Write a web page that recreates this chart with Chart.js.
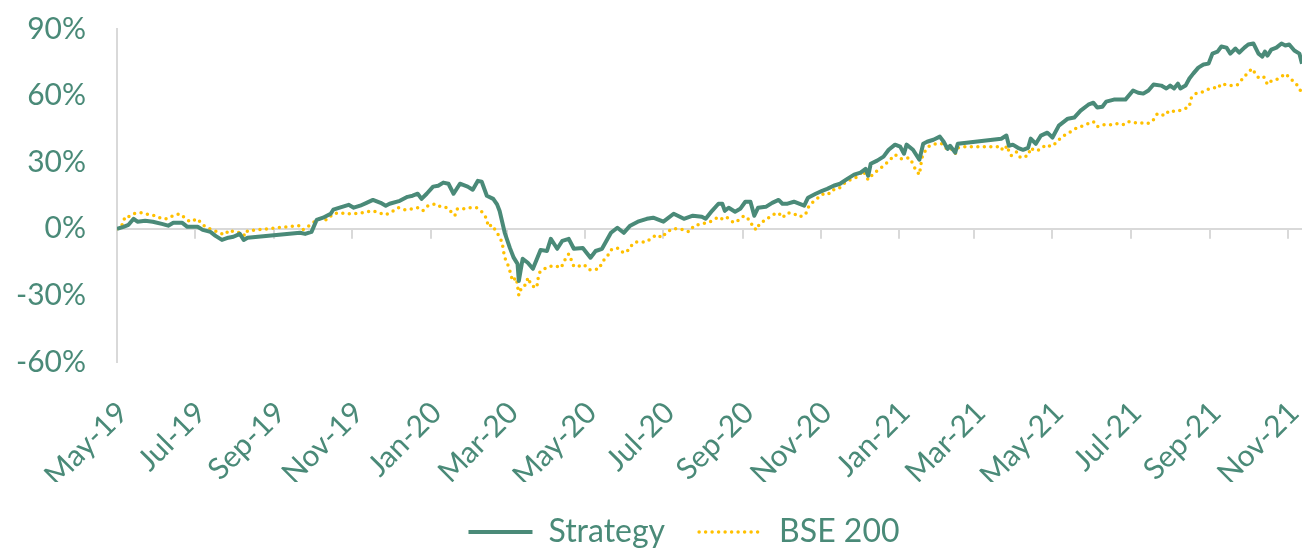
<!DOCTYPE html>
<html>
<head>
<meta charset="utf-8">
<script src="https://cdn.jsdelivr.net/npm/chart.js@4.4.0/dist/chart.umd.min.js"></script>
<style>
  html, body { margin: 0; padding: 0; background: #fff; }
</style>
</head>
<body>
<canvas id="chart" width="1302" height="549"></canvas>
<script>
// cumulative returns
const strategyDates = [
  '2019-05-01','2019-05-06','2019-05-10','2019-05-14','2019-05-17','2019-05-23','2019-05-29','2019-06-05',
  '2019-06-10','2019-06-14','2019-06-21','2019-06-25','2019-07-03','2019-07-07','2019-07-13','2019-07-17',
  '2019-07-22','2019-07-27','2019-07-31','2019-08-05','2019-08-08','2019-08-11','2019-09-21','2019-09-25',
  '2019-09-30','2019-10-04','2019-10-09','2019-10-15','2019-10-17','2019-10-22','2019-10-29','2019-11-02',
  '2019-11-07','2019-11-12','2019-11-17','2019-11-23','2019-11-27','2019-11-30','2019-12-08','2019-12-14',
  '2019-12-18','2019-12-22','2019-12-25','2019-12-29','2020-01-03','2020-01-07','2020-01-11','2020-01-15',
  '2020-01-19','2020-01-24','2020-01-30','2020-02-03','2020-02-07','2020-02-10','2020-02-14','2020-02-19',
  '2020-02-22','2020-02-24','2020-02-28','2020-03-03','2020-03-06','2020-03-09','2020-03-10','2020-03-13',
  '2020-03-17','2020-03-21','2020-03-27','2020-04-01','2020-04-04','2020-04-09','2020-04-13','2020-04-18',
  '2020-04-22','2020-04-29','2020-05-05','2020-05-09','2020-05-14','2020-05-21','2020-05-26','2020-05-31',
  '2020-06-05','2020-06-11','2020-06-18','2020-06-23','2020-07-01','2020-07-09','2020-07-17','2020-07-24',
  '2020-07-31','2020-08-03','2020-08-08','2020-08-13','2020-08-16','2020-08-18','2020-08-21','2020-08-26',
  '2020-08-30','2020-09-03','2020-09-07','2020-09-10','2020-09-13','2020-09-19','2020-09-24','2020-09-29',
  '2020-10-02','2020-10-06','2020-10-11','2020-10-15','2020-10-19','2020-10-22','2020-10-28','2020-11-02',
  '2020-11-06','2020-11-11','2020-11-16','2020-11-22','2020-11-27','2020-12-02','2020-12-06','2020-12-08',
  '2020-12-10','2020-12-15','2020-12-20','2020-12-24','2020-12-29','2021-01-02','2021-01-05','2021-01-07',
  '2021-01-12','2021-01-16','2021-01-17','2021-01-20','2021-01-23','2021-01-28','2021-02-02','2021-02-05',
  '2021-02-08','2021-02-10','2021-02-14','2021-02-16','2021-03-22','2021-03-26','2021-03-28','2021-03-31',
  '2021-04-04','2021-04-08','2021-04-12','2021-04-14','2021-04-18','2021-04-22','2021-04-27','2021-05-01',
  '2021-05-06','2021-05-13','2021-05-18','2021-05-23','2021-05-29','2021-06-02','2021-06-05','2021-06-09',
  '2021-06-12','2021-06-18','2021-06-27','2021-07-03','2021-07-07','2021-07-11','2021-07-15','2021-07-19',
  '2021-07-25','2021-07-29','2021-08-01','2021-08-04','2021-08-07','2021-08-09','2021-08-13','2021-08-16',
  '2021-08-19','2021-08-23','2021-08-27','2021-08-31','2021-09-03','2021-09-07','2021-09-10','2021-09-14',
  '2021-09-17','2021-09-21','2021-09-24','2021-09-28','2021-10-01','2021-10-05','2021-10-09','2021-10-12',
  '2021-10-14','2021-10-16','2021-10-19','2021-10-23','2021-10-27','2021-10-30','2021-11-02','2021-11-06',
  '2021-11-10','2021-11-12'
];
const strategyValues = [
  0, 0.9, 1.8, 4.5, 3.2, 3.6, 3.2, 2.2,
  1.4, 2.7, 2.7, 0.9, 0.9, -0.5, -1.4, -3.2,
  -5, -4, -3.6, -2.3, -5, -4, -1.8, -2.3,
  -1.4, 4, 5, 6.8, 8.6, 9.5, 10.8, 9.5,
  10.4, 11.7, 13, 11.7, 10.4, 11.3, 12.6, 14.4,
  14.9, 15.8, 13.5, 15.8, 19, 19.4, 20.8, 20.3,
  15.8, 20.3, 19, 17.6, 21.6, 21.2, 14.9, 13.5,
  11, 8, -1.8, -8.6, -13, -15.8, -23.5, -13.5,
  -15.3, -18, -9.5, -10, -4.5, -9, -5.4, -4.5,
  -9, -8.6, -13, -10, -9, -1.8, 0.5, -1.8,
  1.4, 3.2, 4.5, 5, 3.2, 6.8, 4.5, 5.9,
  5.4, 4.5, 8.1, 11.3, 11.3, 8.1, 9.5, 7.7,
  9, 12.2, 12.2, 5.9, 9.5, 9.9, 11.7, 13,
  11.3, 11.3, 12.2, 11.3, 10.4, 14, 15.8, 17.1,
  18, 19.4, 20.3, 22.6, 24.4, 25.3, 27, 23.9,
  29.3, 30.7, 32.5, 35.6, 37.9, 37, 33.8, 37.9,
  35.6, 32, 31.1, 38.3, 39.2, 40.1, 41.5, 39.2,
  36, 37.4, 34.3, 38.3, 40.6, 42, 37.4, 37.9,
  36.5, 35.6, 36.5, 40.6, 38.3, 42, 43.3, 41.1,
  46.5, 49.6, 50.1, 53.2, 55.9, 56.8, 54.6, 55,
  57.3, 58.2, 58.2, 62.3, 61.3, 60.9, 62.3, 65,
  64.5, 63.2, 64.5, 63.2, 65.4, 63.2, 64.5, 67.7,
  69.9, 72.6, 74, 74.4, 78.9, 79.8, 82.1, 81.6,
  78.9, 81.2, 79.4, 81.6, 83, 83.5, 78.9, 77.6,
  79.8, 78, 80.7, 81.6, 83.5, 82.6, 83, 80.3,
  78.9, 74.4
];

const bseDates = [
  '2019-05-01','2019-05-06','2019-05-07','2019-05-10','2019-05-14','2019-05-20','2019-05-23','2019-05-26',
  '2019-05-31','2019-06-05','2019-06-09','2019-06-14','2019-06-19','2019-06-23','2019-06-27','2019-07-03',
  '2019-07-06','2019-07-10','2019-07-15','2019-07-20','2019-07-24','2019-07-28','2019-07-31','2019-08-07',
  '2019-08-09','2019-08-11','2019-09-20','2019-09-23','2019-09-27','2019-10-01','2019-10-06','2019-10-12',
  '2019-10-17','2019-10-22','2019-10-28','2019-11-02','2019-11-08','2019-11-12','2019-11-17','2019-11-22',
  '2019-11-27','2019-12-02','2019-12-07','2019-12-12','2019-12-18','2019-12-22','2019-12-26','2019-12-30',
  '2020-01-05','2020-01-09','2020-01-14','2020-01-17','2020-01-20','2020-01-22','2020-01-27','2020-01-31',
  '2020-02-06','2020-02-10','2020-02-14','2020-02-15','2020-02-18','2020-02-21','2020-02-24','2020-02-26',
  '2020-02-27','2020-02-28','2020-03-02','2020-03-04','2020-03-05','2020-03-08','2020-03-09','2020-03-10',
  '2020-03-12','2020-03-16','2020-03-17','2020-03-20','2020-03-24','2020-03-25','2020-03-26','2020-03-30',
  '2020-04-02','2020-04-08','2020-04-12','2020-04-15','2020-04-18','2020-04-20','2020-04-22','2020-04-27',
  '2020-04-30','2020-05-04','2020-05-07','2020-05-12','2020-05-14','2020-05-18','2020-05-21','2020-05-26',
  '2020-05-29','2020-06-02','2020-06-05','2020-06-09','2020-06-13','2020-06-18','2020-06-22','2020-06-26',
  '2020-06-30','2020-07-03','2020-07-08','2020-07-13','2020-07-17','2020-07-21','2020-07-25','2020-07-31',
  '2020-08-04','2020-08-08','2020-08-13','2020-08-17','2020-08-20','2020-08-25','2020-08-29','2020-09-02',
  '2020-09-07','2020-09-09','2020-09-12','2020-09-14','2020-09-19','2020-09-24','2020-09-29','2020-10-02',
  '2020-10-06','2020-10-11','2020-10-15','2020-10-20','2020-10-22','2020-10-26','2020-10-30','2020-11-04',
  '2020-11-08','2020-11-11','2020-11-15','2020-11-19','2020-11-24','2020-11-30','2020-12-04','2020-12-08',
  '2020-12-12','2020-12-17','2020-12-21','2020-12-25','2020-12-29','2021-01-02','2021-01-05','2021-01-09',
  '2021-01-12','2021-01-14','2021-01-17','2021-01-19','2021-01-22','2021-01-25','2021-01-30','2021-02-04',
  '2021-02-08','2021-02-11','2021-02-14','2021-02-16','2021-02-21','2021-03-22','2021-03-23','2021-03-27',
  '2021-03-28','2021-03-30','2021-04-03','2021-04-06','2021-04-12','2021-04-14','2021-04-17','2021-04-21',
  '2021-04-26','2021-04-30','2021-05-03','2021-05-06','2021-05-10','2021-05-14','2021-05-19','2021-05-25',
  '2021-05-29','2021-06-02','2021-06-05','2021-06-10','2021-06-16','2021-06-21','2021-06-26','2021-06-30',
  '2021-07-05','2021-07-08','2021-07-14','2021-07-18','2021-07-22','2021-07-28','2021-07-31','2021-08-06',
  '2021-08-11','2021-08-16','2021-08-17','2021-08-21','2021-08-27','2021-09-01','2021-09-06','2021-09-07',
  '2021-09-10','2021-09-16','2021-09-20','2021-09-23','2021-09-26','2021-09-30','2021-10-04','2021-10-06',
  '2021-10-09','2021-10-13','2021-10-16','2021-10-18','2021-10-23','2021-10-27','2021-10-30','2021-11-03',
  '2021-11-07','2021-11-10','2021-11-12'
];
const bseValues = [
  0, 2.3, 5.4, 5.4, 6.8, 7.2, 6.8, 6.3,
  5.9, 4.5, 4.5, 5.9, 6.8, 5, 3.2, 4.5,
  2.3, 0.5, -0.5, -1.8, -2.7, -0.5, -1.4, -1.8,
  -3.2, -0.9, 1.4, -0.5, 0.9, 2.7, 4.5, 4,
  6.8, 7.2, 6.8, 6.8, 7.2, 7.7, 8.1, 7.2,
  6.3, 7.7, 9.5, 8.6, 9, 9.5, 8.1, 10.4,
  11.3, 9.9, 9.5, 7.7, 5.9, 9, 9, 9.5,
  9.5, 7.7, 4.5, 0.9, 1.8, -0.9, -3.6, -6.3,
  -10, -13, -17, -21, -23.5, -22, -25.7, -30,
  -26.6, -24.8, -22, -25.7, -26.6, -22.6, -19.8, -18,
  -17, -16.7, -17.6, -14, -11.3, -14, -17, -16.7,
  -16.2, -18.5, -18.5, -18, -15, -12.6, -9.5, -8.6,
  -10.4, -10.8, -8.1, -5.9, -5.9, -5.9, -4, -2.7,
  -4, -1.8, 0, 0, -0.5, -1.4, 1.4, 2.3,
  2.7, 3.6, 5.4, 4, 5, 2.7, 4, 5.9,
  3.6, 0.5, -0.5, 2.3, 4, 6.3, 7.2, 5,
  7.2, 6.8, 5.4, 6.3, 9.5, 12.2, 14, 16.2,
  15.8, 17.6, 18, 20.3, 22.1, 23.5, 26.2, 22.1,
  24.8, 27, 28.9, 31.1, 33.4, 31.6, 31.6, 32,
  29.3, 26.6, 24.4, 32, 35.6, 37.4, 38.3, 38.3,
  35.6, 36, 33.8, 36.5, 37, 37, 35.2, 37.4,
  34.3, 32.9, 34.7, 32, 32.9, 36.5, 35.2, 35.6,
  37.9, 37, 38.3, 40.1, 42, 43.3, 45.1, 46.5,
  47.4, 48.3, 46, 46.9, 46.9, 47.4, 46.9, 48.3,
  47.8, 47.8, 47.4, 48.3, 51.9, 51, 53.2, 52.8,
  53.7, 55, 58.6, 60.9, 61.8, 63.2, 63.6, 63.2,
  65.4, 64.5, 64.5, 65, 67.2, 69.9, 72.2, 70.4,
  68.1, 68.6, 65, 66.3, 67.2, 68.6, 69.9, 67.7,
  65.4, 63.6, 60
];

const xTickDates = ['2019-05-01','2019-07-01','2019-09-01','2019-11-01','2020-01-01','2020-03-01','2020-05-01',
  '2020-07-01','2020-09-01','2020-11-01','2021-01-01','2021-03-01','2021-05-01','2021-07-01','2021-09-01','2021-11-01'];
const xTickLabels = ['May-19','Jul-19','Sep-19','Nov-19','Jan-20','Mar-20','May-20','Jul-20',
  'Sep-20','Nov-20','Jan-21','Mar-21','May-21','Jul-21','Sep-21','Nov-21'];
const yTickValues = [-60, -30, 0, 30, 60, 90];

const GREEN = '#4a8a78';
const GOLD = '#ffc000';
const GRID = '#d9d9d9';
const FONT = 'Lato';

const START = Date.UTC(2019, 4, 1);
function dayOf(s) {
  const p = s.split('-').map(Number);
  return (Date.UTC(p[0], p[1] - 1, p[2]) - START) / 86400000;
}
function toPoints(dates, values) {
  return dates.map((d, i) => ({ x: dayOf(d), y: values[i] }));
}

// small tick marks hanging below the zero line
const zeroTicks = {
    id: 'zeroTicks',
    beforeDatasetsDraw(chart) {
        const { ctx, scales: { x, y } } = chart;
        const y0 = y.getPixelForValue(0);
        ctx.save();
        ctx.strokeStyle = GRID;
        ctx.lineWidth = 2;
        x.ticks.forEach(t => {
            const px = Math.round(x.getPixelForValue(t.value));
            ctx.beginPath();
            ctx.moveTo(px, y0);
            ctx.lineTo(px, y0 + 10);
            ctx.stroke();
        });
        ctx.restore();
    }
};

// legend in the original sits a bit right of the canvas centre
const legendShift = {
    id: 'legendShift',
    afterLayout(chart) {
        if (chart.legend) chart.legend.left = 66;
    }
};

new Chart(document.getElementById('chart'), {
    type: 'line',
    data: {
        datasets: [
            {
                label: 'Strategy',
                data: toPoints(strategyDates, strategyValues),
                borderColor: GREEN,
                backgroundColor: GREEN,
                borderWidth: 4,
                borderJoinStyle: 'round',
                pointRadius: 0,
            },
            {
                label: 'BSE 200',
                data: toPoints(bseDates, bseValues),
                borderColor: GOLD,
                backgroundColor: GOLD,
                borderWidth: 3.5,
                borderDash: [0, 6.5],
                borderCapStyle: 'round',
                pointRadius: 0,
            }
        ]
    },
    options: {
        responsive: false,
        animation: false,
        devicePixelRatio: 1,
        layout: { padding: { top: 29, right: 0, bottom: 0, left: 0 } },
        plugins: {
            legend: {
                position: 'bottom',
                maxHeight: 67,
                labels: {
                    usePointStyle: true,
                    pointStyleWidth: 64,
                    color: GREEN,
                    padding: 34,
                    font: { family: FONT, size: 32 },
                    generateLabels: chart => chart.data.datasets.map((ds, i) => ({
                        text: ds.label,
                        datasetIndex: i,
                        hidden: false,
                        pointStyle: 'line',
                        fillStyle: ds.borderColor,
                        strokeStyle: ds.borderColor,
                        lineWidth: ds.borderWidth,
                        lineDash: ds.borderDash || [],
                        lineCap: ds.borderCapStyle || 'butt',
                        fontColor: GREEN
                    }))
                }
            },
            tooltip: { enabled: false }
        },
        scales: {
            x: {
                type: 'linear',
                min: 0,
                max: dayOf(strategyDates[strategyDates.length - 1]),
                grid: { display: false, drawTicks: false },
                border: { display: false },
                afterBuildTicks: s => { s.ticks = xTickDates.map(d => ({ value: dayOf(d) })); },
                afterFit: s => { s.height = 120; s.paddingLeft = 0; s.paddingRight = 0; },
                ticks: {
                    autoSkip: false,
                    minRotation: 45,
                    maxRotation: 45,
                    padding: 33,
                    labelOffset: 6,
                    color: GREEN,
                    font: { family: FONT, size: 30 },
                    callback: (v, i) => xTickLabels[i]
                }
            },
            y: {
                min: -60,
                max: 90,
                afterBuildTicks: s => { s.ticks = yTickValues.map(v => ({ value: v })); },
                afterFit: s => { s.width = 117; s.paddingTop = 0; s.paddingBottom = 0; },
                grid: {
                    color: c => (c.tick && c.tick.value === 0 ? GRID : 'rgba(0,0,0,0)'),
                    lineWidth: 2,
                    drawTicks: false
                },
                border: { display: true, color: GRID, width: 2 },
                ticks: {
                    padding: 31,
                    color: GREEN,
                    font: { family: FONT, size: 30 },
                    callback: v => v + '%'
                }
            }
        }
    },
    plugins: [zeroTicks, legendShift]
});
</script>
</body>
</html>
